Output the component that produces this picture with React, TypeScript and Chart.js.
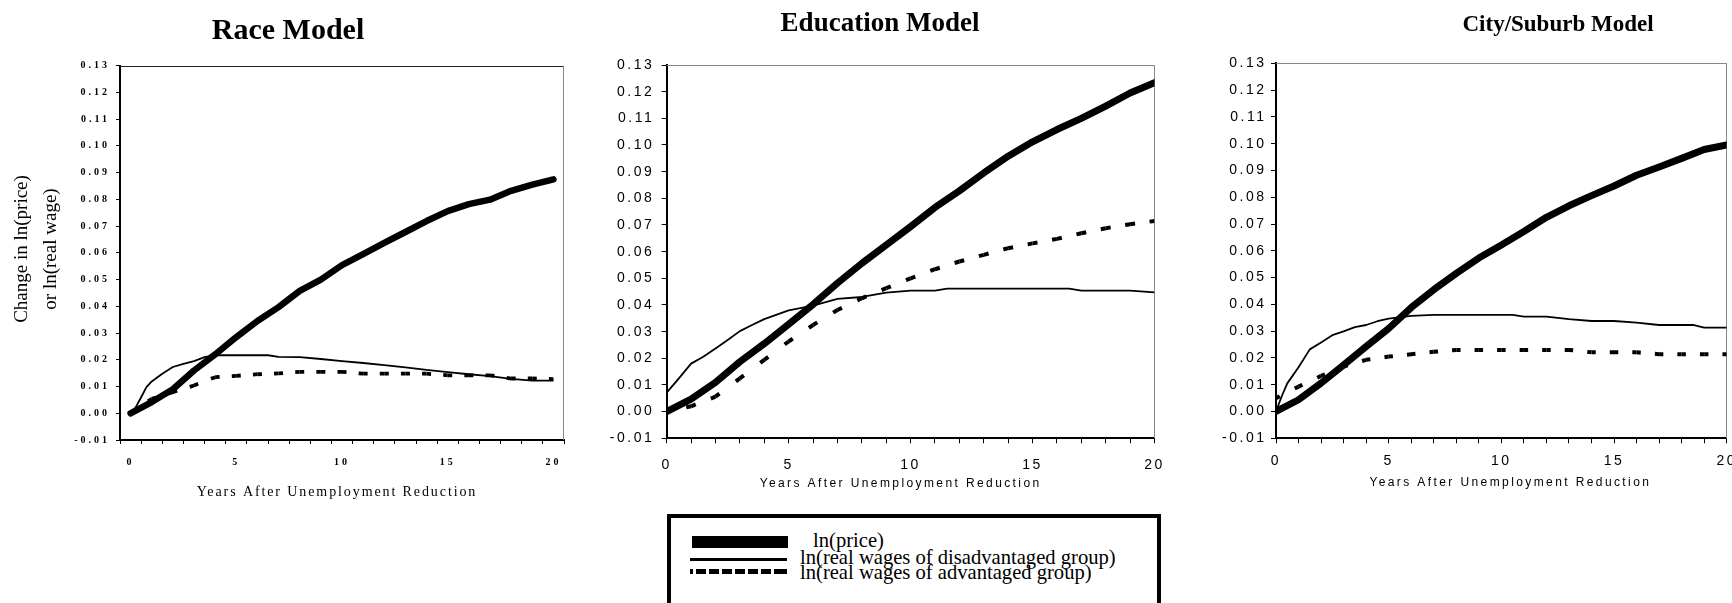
import React, { useEffect, useRef } from 'react';
import { Chart, registerables } from 'chart.js';

Chart.register(...registerables);

// ================= DATA =================
const years = [0, 1, 2, 3, 4, 5, 6, 7, 8, 9, 10, 11, 12, 13, 14, 15, 16, 17, 18, 19, 20];
const xLabelYears = [0, 5, 10, 15, 20];
const yMin = -0.01;
const yMax = 0.13;
const yStep = 0.01;

const seriesNames = [
  'ln(price)',
  'ln(real wages of disadvantaged group)',
  'ln(real wages of advantaged group)',
];

// Race model
const racePrice = [0, 0.0042, 0.009, 0.016, 0.022, 0.0285, 0.0345, 0.0397, 0.0458, 0.05, 0.0554, 0.0595, 0.0637, 0.0678, 0.0719, 0.0756, 0.0782, 0.0799, 0.0832, 0.0855, 0.0875];
const raceDisYears = [0, 0.25, 0.5, 0.75, 1, 1.5, 2, 2.5, 3, 3.5, 4, 6.5, 7, 8, 9, 10, 11, 12, 13, 14, 15, 16, 17, 18, 19, 20];
const raceDis = [0, 0.0023, 0.006, 0.0098, 0.0119, 0.0148, 0.0173, 0.0185, 0.0195, 0.021, 0.0217, 0.0217, 0.0211, 0.021, 0.0203, 0.0195, 0.0188, 0.018, 0.0172, 0.0162, 0.0154, 0.0146, 0.0139, 0.0129, 0.0122, 0.0122];
const raceAdv = [0, 0.0054, 0.0079, 0.0104, 0.0135, 0.014, 0.0146, 0.0149, 0.0155, 0.0155, 0.0155, 0.0148, 0.0148, 0.0148, 0.0148, 0.0142, 0.0142, 0.0142, 0.013, 0.013, 0.0128];

// Education model
const eduPrice = [0, 0.0047, 0.011, 0.0187, 0.0255, 0.0328, 0.0402, 0.0482, 0.0556, 0.0625, 0.0694, 0.0766, 0.0828, 0.0895, 0.0958, 0.1012, 0.1058, 0.11, 0.1146, 0.1195, 0.1234];
const eduDisYears = [0, 0.5, 1, 1.5, 2, 2.5, 3, 3.5, 4, 5, 6, 7, 8, 9, 10, 11, 11.5, 16.5, 17, 19, 20];
const eduDis = [0.0071, 0.0125, 0.018, 0.0206, 0.0237, 0.0269, 0.0302, 0.0325, 0.0347, 0.038, 0.0398, 0.0423, 0.043, 0.0446, 0.0454, 0.0454, 0.0461, 0.0461, 0.0454, 0.0454, 0.0447];
const eduAdv = [0, 0.002, 0.0056, 0.0125, 0.0194, 0.0263, 0.0325, 0.0381, 0.0425, 0.0463, 0.05, 0.0534, 0.0563, 0.0588, 0.0613, 0.0631, 0.0648, 0.0669, 0.0688, 0.0703, 0.0715];

// City/Suburb model
const cityPrice = [0, 0.0044, 0.0106, 0.0174, 0.0243, 0.031, 0.0388, 0.0455, 0.0516, 0.0573, 0.0622, 0.0672, 0.0725, 0.0768, 0.0806, 0.0842, 0.0882, 0.0913, 0.0945, 0.0978, 0.0995];
const cityDisYears = [0, 0.25, 0.5, 1, 1.5, 2, 2.5, 3, 3.5, 4, 4.5, 5, 6, 7, 10.5, 11, 12, 13, 14, 15, 16, 17, 18.5, 19, 20];
const cityDis = [0, 0.0056, 0.0105, 0.0165, 0.0232, 0.0258, 0.0285, 0.0299, 0.0315, 0.0323, 0.0337, 0.0347, 0.0357, 0.0361, 0.0361, 0.0354, 0.0354, 0.0345, 0.0338, 0.0338, 0.0332, 0.0323, 0.0323, 0.0313, 0.0313];
const cityAdv = [0.005, 0.0093, 0.0133, 0.0168, 0.0193, 0.0205, 0.0214, 0.0223, 0.023, 0.023, 0.023, 0.023, 0.023, 0.023, 0.0221, 0.0221, 0.0221, 0.0214, 0.0214, 0.0214, 0.0214];

const raceYTitle = ['Change in ln(price)', 'or ln(real wage)'];
const xAxisTitle = 'Years After Unemployment Reduction';

// ================= HELPERS =================
const pts = (xs: number[], ys: number[]) => xs.map((x, i) => ({ x, y: ys[i] }));

type Panel = {
  left: number; width: number; height: number;
  title: string; titleSize: number; titleCenterY: number;
  area: { l: number; r: number; t: number; b: number };
  xMin: number; xMax: number; halfTicks: boolean;
  tickFont: any; tickSpacing: string; xLabelCenterY: number; yTickPad: number; tickLen: number;
  axisTitleFont: any; axisTitleSpacing: string; axisTitleCenterY: number; axisTitleDx: number;
  price: { x: number; y: number }[]; dis: { x: number; y: number }[]; adv: { x: number; y: number }[];
  thick: number; thin: number; dashW: number; dashLen: number;
  frameTop: string; frameRight: string;
  yTitle?: { lines: string[]; xs: number[]; cy: number; font: string };
};

function makeFramePlugin(top: string, right: string) {
  return {
    id: 'frameLines',
    beforeDatasetsDraw(chart: any) {
      const { ctx, chartArea: a } = chart;
      ctx.save();
      ctx.lineWidth = 1;
      ctx.strokeStyle = top;
      ctx.beginPath();
      ctx.moveTo(a.left, Math.round(a.top) + 0.5);
      ctx.lineTo(a.right, Math.round(a.top) + 0.5);
      ctx.stroke();
      ctx.strokeStyle = right;
      ctx.beginPath();
      ctx.moveTo(Math.round(a.right) - 0.5, a.top);
      ctx.lineTo(Math.round(a.right) - 0.5, a.bottom);
      ctx.stroke();
      ctx.restore();
    },
  };
}

function makeSpacingPlugin(tickSp: string, titleSp: string, titleDx: number) {
  return {
    id: 'letterSpacing',
    beforeDraw(chart: any) {
      ['x', 'y'].forEach((id) => {
        const s = chart.scales[id];
        if (!s || s._spacingWrapped) return;
        const origLabels = s.drawLabels;
        const origTitle = s.drawTitle;
        s.drawLabels = function (area: any) {
          const c = chart.ctx;
          c.save();
          c.letterSpacing = tickSp;
          origLabels.call(this, area);
          c.restore();
        };
        s.drawTitle = function () {
          const c = chart.ctx;
          c.save();
          c.letterSpacing = titleSp;
          if (id === 'x') c.translate(titleDx, 0);
          origTitle.call(this);
          c.restore();
        };
        s._spacingWrapped = true;
      });
    },
  };
}

function makeYTitlePlugin(cfg?: { lines: string[]; xs: number[]; cy: number; font: string }) {
  return {
    id: 'yTitleRotated',
    afterDraw(chart: any) {
      if (!cfg) return;
      const c = chart.ctx;
      c.save();
      c.font = cfg.font;
      c.fillStyle = '#000';
      c.textAlign = 'center';
      c.textBaseline = 'middle';
      cfg.lines.forEach((t, i) => {
        c.save();
        c.translate(cfg.xs[i], cfg.cy);
        c.rotate(-Math.PI / 2);
        c.fillText(t, 0, 0);
        c.restore();
      });
      c.restore();
    },
  };
}

function buildConfig(p: Panel): any {
  const yAxisW = p.area.l - p.left;
  const rightW = p.left + p.width - p.area.r;
  const titlePadTop = p.titleCenterY - p.titleSize / 2;
  const titlePadBottom = p.area.t - p.titleSize - titlePadTop;
  const xAxisH = p.height - p.area.b;
  const atLH = p.axisTitleFont.size * 1.2;
  const atPadBottom = p.height - p.axisTitleCenterY - atLH / 2;
  const tickLH = p.tickFont.size * 1.2;
  const xTickPad = p.xLabelCenterY - p.area.b - p.tickLen - tickLH / 2;
  const h = p.dashLen / 2;

  return {
    type: 'line',
    data: {
      datasets: [
        {
          label: seriesNames[0],
          data: p.price,
          borderColor: '#000',
          borderWidth: p.thick,
          borderCapStyle: 'round',
          borderJoinStyle: 'round',
          pointRadius: 0,
          tension: 0,
          fill: false,
        },
        {
          label: seriesNames[1],
          data: p.dis,
          borderColor: '#000',
          borderWidth: p.thin,
          borderJoinStyle: 'round',
          pointRadius: 0,
          tension: 0,
          fill: false,
        },
        {
          label: seriesNames[2],
          data: p.adv,
          borderColor: '#000',
          borderWidth: p.dashW,
          borderCapStyle: 'butt',
          pointRadius: 0,
          tension: 0,
          fill: false,
          segment: {
            borderDash: (ctx: any) => {
              const L = Math.hypot(ctx.p1.x - ctx.p0.x, ctx.p1.y - ctx.p0.y);
              if (L <= 2 * h) return [Math.max(L, 0.01), 0.01];
              return [h, L - 2 * h, h, 0.0001];
            },
          },
        },
      ],
    },
    options: {
      responsive: false,
      animation: false,
      devicePixelRatio: 1,
      events: [],
      layout: { padding: 0, autoPadding: false },
      plugins: {
        legend: { display: false },
        tooltip: { enabled: false },
        title: {
          display: true,
          text: p.title,
          color: '#000',
          font: { family: 'Liberation Serif', size: p.titleSize, weight: 'bold', lineHeight: 1 },
          padding: { top: titlePadTop, bottom: titlePadBottom },
        },
      },
      scales: {
        x: {
          type: 'linear',
          position: 'bottom',
          min: p.xMin,
          max: p.xMax,
          afterBuildTicks: (s: any) => {
            const t: any[] = [];
            if (p.halfTicks) {
              for (let v = p.xMin; v <= p.xMax + 1e-9; v += 0.5) t.push({ value: v });
            } else {
              for (let v = p.xMin; v <= p.xMax + 1e-9; v += 1) t.push({ value: v });
            }
            s.ticks = t;
          },
          afterFit: (s: any) => {
            s.height = xAxisH;
          },
          grid: {
            display: true,
            drawOnChartArea: false,
            drawTicks: true,
            tickLength: p.tickLen,
            lineWidth: 1,
            color: '#000',
            tickColor: (c: any) =>
              p.halfTicks && c.tick && Number.isInteger(c.tick.value) ? 'rgba(0,0,0,0)' : '#000',
          },
          border: { display: true, color: '#000', width: 2 },
          ticks: {
            autoSkip: false,
            maxRotation: 0,
            minRotation: 0,
            color: '#000',
            font: p.tickFont,
            padding: xTickPad,
            callback: (v: any) => (xLabelYears.includes(Number(v)) ? String(v) : ''),
          },
          title: {
            display: true,
            text: xAxisTitle,
            color: '#000',
            font: { ...p.axisTitleFont, lineHeight: 1.2 },
            padding: { top: 0, bottom: atPadBottom },
          },
        },
        y: {
          type: 'linear',
          position: 'left',
          min: yMin,
          max: yMax,
          afterFit: (s: any) => {
            s.width = yAxisW;
          },
          grid: {
            display: true,
            drawOnChartArea: false,
            drawTicks: true,
            tickLength: p.tickLen,
            lineWidth: 1,
            color: '#000',
            tickColor: '#000',
          },
          border: { display: true, color: '#000', width: 2 },
          ticks: {
            stepSize: yStep,
            autoSkip: false,
            color: '#000',
            font: p.tickFont,
            padding: p.yTickPad,
            callback: (v: any) => Number(v).toFixed(2),
          },
        },
        y2: {
          type: 'linear',
          position: 'right',
          display: true,
          grid: { display: false, drawTicks: false },
          border: { display: false },
          ticks: { display: false },
          afterFit: (s: any) => {
            s.width = rightW;
          },
        },
      },
    },
    plugins: [
      makeFramePlugin(p.frameTop, p.frameRight),
      makeSpacingPlugin(p.tickSpacing, p.axisTitleSpacing, p.axisTitleDx),
      makeYTitlePlugin(p.yTitle),
    ],
  };
}

const panels: Panel[] = [
  {
    left: 0, width: 576, height: 520,
    title: 'Race Model', titleSize: 30, titleCenterY: 31.5,
    area: { l: 120, r: 571.7, t: 65.7, b: 440 },
    xMin: -0.5, xMax: 20.5, halfTicks: true,
    tickFont: { family: 'Liberation Serif', size: 10, weight: 'bold' }, tickSpacing: '3px',
    xLabelCenterY: 462, yTickPad: 6, tickLen: 4,
    axisTitleFont: { family: 'Liberation Serif', size: 14 }, axisTitleSpacing: '1.9px', axisTitleCenterY: 492, axisTitleDx: -5,
    price: pts(years, racePrice), dis: pts(raceDisYears, raceDis), adv: pts(years, raceAdv),
    thick: 6.5, thin: 1.8, dashW: 3.8, dashLen: 9,
    frameTop: '#222', frameRight: '#888',
    yTitle: { lines: raceYTitle, xs: [22, 51], cy: 249, font: '19px "Liberation Serif"' },
  },
  {
    left: 580, width: 600, height: 520,
    title: 'Education Model', titleSize: 27, titleCenterY: 24,
    area: { l: 666.7, r: 1154.5, t: 65, b: 438.3 },
    xMin: 0, xMax: 20, halfTicks: false,
    tickFont: { family: 'Liberation Sans', size: 14 }, tickSpacing: '2.5px',
    xLabelCenterY: 465, yTickPad: 7.5, tickLen: 5,
    axisTitleFont: { family: 'Liberation Sans', size: 12 }, axisTitleSpacing: '2.4px', axisTitleCenterY: 484, axisTitleDx: -10,
    price: pts(years, eduPrice), dis: pts(eduDisYears, eduDis), adv: pts(years, eduAdv),
    thick: 7, thin: 1.8, dashW: 4, dashLen: 10,
    frameTop: '#888', frameRight: '#888',
  },
  {
    left: 1200, width: 716, height: 520,
    title: 'City/Suburb Model', titleSize: 23, titleCenterY: 25.5,
    area: { l: 1276, r: 1726.7, t: 63.3, b: 438.3 },
    xMin: 0, xMax: 20, halfTicks: false,
    tickFont: { family: 'Liberation Sans', size: 14 }, tickSpacing: '2.5px',
    xLabelCenterY: 461, yTickPad: 4.5, tickLen: 5,
    axisTitleFont: { family: 'Liberation Sans', size: 12 }, axisTitleSpacing: '2.4px', axisTitleCenterY: 483, axisTitleDx: 9,
    price: pts(years, cityPrice), dis: pts(cityDisYears, cityDis), adv: pts(years, cityAdv),
    thick: 7, thin: 1.8, dashW: 4, dashLen: 8.5,
    frameTop: '#888', frameRight: '#888',
  },
];

function PanelChart({ p }: { p: Panel }) {
  const ref = useRef<HTMLCanvasElement>(null);
  useEffect(() => {
    if (!ref.current) return;
    const chart = new Chart(ref.current, buildConfig(p));
    return () => chart.destroy();
  }, []);
  return (
    <canvas
      ref={ref}
      width={p.width}
      height={p.height}
      style={{ position: 'absolute', left: p.left, top: 0, width: p.width, height: p.height, display: 'block' }}
    />
  );
}

function Legend() {
  const text: React.CSSProperties = {
    position: 'absolute',
    fontFamily: '"Liberation Serif", serif',
    fontSize: 20.6,
    lineHeight: '20px',
    whiteSpace: 'nowrap',
    color: '#000',
  };
  return (
    <>
      <div
        style={{
          position: 'absolute', left: 667, top: 514, width: 494, height: 120,
          border: '4px solid #000', boxSizing: 'border-box', background: '#fff',
        }}
      />
      <div style={{ position: 'absolute', left: 692, top: 536, width: 96, height: 12, background: '#000' }} />
      <div style={{ position: 'absolute', left: 690, top: 558, width: 97, height: 3, background: '#000' }} />
      <div
        style={{
          position: 'absolute', left: 690, top: 569, width: 97, height: 5,
          backgroundImage: 'repeating-linear-gradient(90deg, #000 0px, #000 10px, transparent 10px, transparent 13px)',
          backgroundPosition: '-7px 0',
        }}
      />
      <div style={{ ...text, left: 813, top: 530 }}>{seriesNames[0]}</div>
      <div style={{ ...text, left: 800, top: 547 }}>{seriesNames[1]}</div>
      <div style={{ ...text, left: 800, top: 562 }}>{seriesNames[2]}</div>
    </>
  );
}

export default function App() {
  return (
    <div
      style={{
        position: 'absolute', left: 0, top: 0, width: 1732, height: 603,
        overflow: 'hidden', background: '#fff',
      }}
    >
      {panels.map((p, i) => (
        <PanelChart key={i} p={p} />
      ))}
      <Legend />
    </div>
  );
}
